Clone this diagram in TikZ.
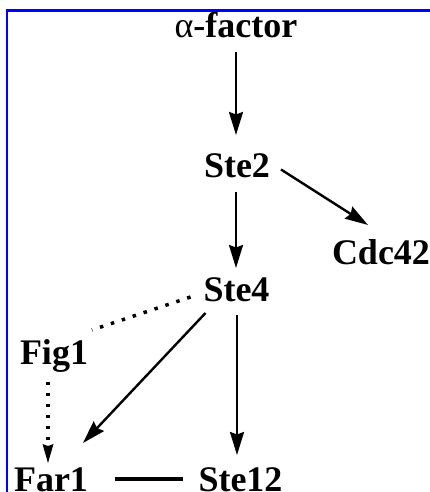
\documentclass[tikz,border=0pt]{standalone}
\usepackage{fontspec}
\setmainfont{Liberation Serif}
\usetikzlibrary{arrows.meta,calc}

\begin{document}
\begin{tikzpicture}[x=1pt,y=1pt,
  gene/.style={inner sep=0pt, outer sep=0pt, anchor=base,
    text height=25pt, text depth=0pt,
    font=\bfseries\fontsize{36}{36}\selectfont},
  arr/.style={line width=2.4pt, -{Stealth[length=23pt,width=14pt,inset=2.5pt]}},
  dotarr/.style={line width=3.5pt, dash pattern=on 3.5pt off 7.5pt,
    -{Stealth[length=19pt,width=11pt,inset=2pt,line width=0pt]}},
  dotline/.style={line width=3.5pt, dash pattern=on 3.5pt off 8pt},
  bond/.style={line width=4.5pt},
  frame/.style={draw=blue, line width=2.5pt}]
\useasboundingbox (0,0) rectangle (430,492);

% frame edges
\draw[frame] (432,481.5) -- (7,481.5) -- (7,-2);

% pathway components
\node[gene] (alpha) at (236,454) {{\mdseries α}-factor};
\node[gene] (ste2)  at (237,314) {Ste2};
\node[gene] (cdc42) at (381,227) {Cdc42};
\node[gene] (ste4)  at (236.5,190) {Ste4};
\node[gene] (fig1)  at (54,127) {Fig1};
\node[gene] (far1)  at (51,1) {Far1};
\node[gene] (ste12) at (240.5,1) {Ste12};

% signalling arrows
\draw[arr] ([yshift=-14pt]alpha.base) -- ([yshift=18pt]alpha.base |- ste2.north);
\draw[arr] ([shift={(11,-4)}]ste2.east) -- ([shift={(-13,15)}]cdc42.north);
\draw[arr] ([shift={(-1,-14)}]ste2.base) -- ([shift={(-1,9)}]ste2.base |- ste4.north);
\draw[arr] ([shift={(0.5,-13)}]ste4.base) -- ([shift={(0.5,11)}]ste4.base |- ste12.north);
\draw[arr] ([shift={(2,-11)}]ste4.base west) -- ([shift={(-5,23)}]far1.north east);

% putative links
\draw[dotline] ([shift={(-13,5)}]ste4.base west) -- ([shift={(4,10)}]fig1.north east);
\draw[dotarr] ([shift={(-6,-17)}]fig1.base) -- ([shift={(-3,3)}]far1.north);

% interaction
\draw[bond] ([shift={(27,12)}]far1.base east) -- ([shift={(-16,12)}]ste12.base west);
\end{tikzpicture}
\end{document}
